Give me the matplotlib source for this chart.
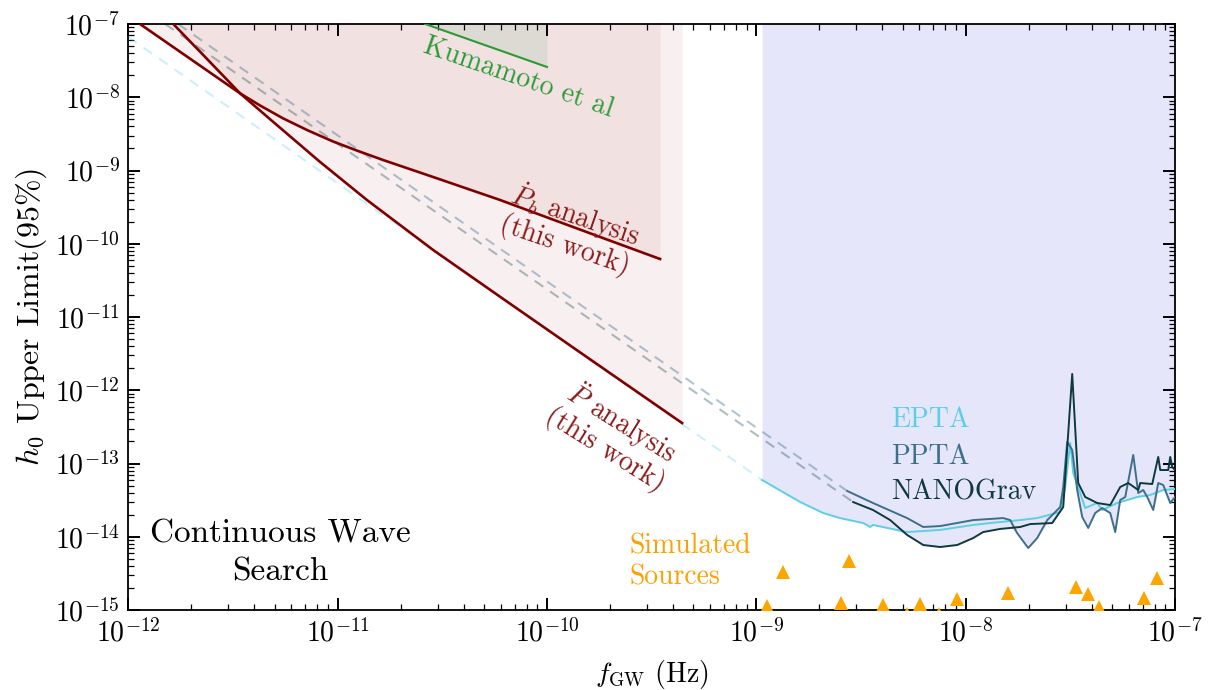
import numpy as np
import matplotlib
matplotlib.use('Agg')
import matplotlib.pyplot as plt
from matplotlib.ticker import LogLocator, NullFormatter

plt.rcParams['font.family'] = 'serif'
plt.rcParams['font.serif'] = ['cmr10']
plt.rcParams['mathtext.fontset'] = 'cm'
plt.rcParams['axes.unicode_minus'] = False
plt.rcParams['axes.formatter.use_mathtext'] = True

# ---------------- data ----------------
# Pdot_b analysis upper limit
pb_f = [1.137e-12, 3.42e-12, 4.26e-12, 5.48e-12, 7.22e-12, 9.51e-12, 1.25e-11, 1.65e-11,
        2.86e-11, 5.97e-11, 1.035e-10, 1.79e-10, 3.47e-10]
pb_h = [1.0e-7, 1.13e-8, 7.72e-9, 5.16e-9, 3.52e-9, 2.49e-9, 1.85e-9, 1.39e-9,
        8.15e-10, 3.96e-10, 2.21e-10, 1.24e-10, 6.19e-11]

# Pddot analysis upper limit
pdd_f = [1.64e-12, 2.33e-12, 3.42e-12, 4.91e-12, 8.24e-12, 1.38e-11, 2.86e-11, 5.97e-11,
         1.55e-10, 4.42e-10]
pdd_h = [1.0e-7, 3.54e-8, 1.13e-8, 4.64e-9, 1.31e-9, 3.96e-10, 8.22e-11, 1.89e-11,
         2.84e-12, 3.57e-13]

# Kumamoto et al
kum_f = [2.62e-11, 1.0e-10]
kum_h = [1.0e-7, 2.59e-8]

# EPTA
epta_f = [1.066e-9, 1.62e-9, 2.085e-9, 2.51e-9, 3.24e-9, 3.50e-9, 3.61e-9, 5.25e-9, 7.55e-9,
          1.086e-8, 1.309e-8, 1.821e-8, 2.196e-8, 2.829e-8, 2.989e-8, 3.158e-8, 3.264e-8,
          3.724e-8, 4.249e-8, 4.489e-8, 5.296e-8, 6.60e-8, 7.613e-8, 8.784e-8, 1.0e-7]
epta_h = [5.95e-14, 2.98e-14, 2.11e-14, 1.80e-14, 1.54e-14, 1.36e-14, 1.45e-14, 1.16e-14, 1.24e-14,
          1.45e-14, 1.54e-14, 1.69e-14, 1.80e-14, 2.18e-14, 4.78e-14, 1.91e-13, 7.42e-14,
          2.47e-14, 2.89e-14, 2.32e-14, 2.89e-14, 3.49e-14, 3.72e-14, 4.35e-14, 4.49e-14]

# PPTA
ppta_f = [2.72e-9, 3.61e-9, 5.25e-9, 6.27e-9, 7.55e-9, 1.086e-8, 1.511e-8, 1.632e-8, 1.762e-8,
          1.99e-8, 2.196e-8, 2.452e-8, 2.829e-8, 2.924e-8, 3.055e-8, 3.228e-8, 3.41e-8, 3.603e-8,
          3.849e-8, 4.156e-8, 4.489e-8, 4.903e-8, 5.181e-8, 5.474e-8, 5.784e-8, 6.316e-8,
          6.673e-8, 7.05e-8, 7.367e-8, 7.868e-8, 8.314e-8, 8.784e-8, 9.487e-8, 1.0e-7]
ppta_h = [4.21e-14, 2.89e-14, 1.80e-14, 1.36e-14, 1.40e-14, 1.69e-14, 1.80e-14, 1.69e-14, 1.12e-14,
          7.02e-15, 9.61e-15, 1.69e-14, 2.55e-14, 4.78e-14, 1.97e-13, 1.53e-13, 4.35e-14, 1.86e-14,
          1.32e-14, 2.11e-14, 2.47e-14, 2.11e-14, 1.16e-14, 3.18e-14, 3.49e-14, 1.31e-13,
          3.96e-14, 4.35e-14, 3.49e-14, 2.32e-14, 5.42e-14, 5.09e-14, 2.89e-14, 3.49e-14]

# NANOGrav
nano_f = [2.90e-9, 3.61e-9, 4.36e-9, 5.25e-9, 6.27e-9, 7.55e-9, 9.11e-9, 1.086e-8, 1.212e-8,
          1.462e-8, 1.821e-8, 2.033e-8, 2.591e-8, 2.924e-8, 3.228e-8, 3.448e-8, 3.724e-8,
          4.249e-8, 4.903e-8, 5.474e-8, 5.978e-8, 6.673e-8, 6.821e-8, 7.783e-8, 8.314e-8,
          8.499e-8, 9.28e-8, 9.487e-8, 9.696e-8, 1.0e-7]
nano_h = [2.98e-14, 2.32e-14, 1.69e-14, 1.06e-14, 7.72e-15, 7.25e-15, 7.72e-15, 9.61e-15, 1.16e-14,
          1.28e-14, 1.36e-14, 1.49e-14, 1.54e-14, 2.55e-14, 1.67e-12, 5.42e-14, 3.49e-14,
          2.89e-14, 2.71e-14, 4.78e-14, 5.42e-14, 4.35e-14, 5.42e-14, 5.25e-14, 1.23e-13,
          8.15e-14, 8.15e-14, 1.23e-13, 8.96e-14, 8.15e-14]

# low-frequency extrapolations (dashed)
epta_ext_f = [1.0e-12, 1.066e-9]
epta_ext_h = [6.65e-8, 5.95e-14]
ppta_ext_f = [1.73e-12, 2.72e-9]
ppta_ext_h = [1.0e-7, 4.21e-14]
nano_ext_f = [1.50e-12, 2.90e-9]
nano_ext_h = [1.0e-7, 2.98e-14]

# simulated sources
sim_f = [1.334e-9, 2.77e-9, 1.13e-9, 2.54e-9, 4.02e-9, 6.06e-9, 5.24e-9, 7.46e-9, 9.14e-9,
         1.6e-8, 3.37e-8, 3.85e-8, 4.31e-8, 7.14e-8, 8.19e-8]
sim_h = [3.27e-15, 4.71e-15, 1.15e-15, 1.23e-15, 1.17e-15, 1.21e-15, 8.9e-16, 8.9e-16, 1.41e-15,
         1.69e-15, 2.08e-15, 1.64e-15, 1.11e-15, 1.47e-15, 2.71e-15]

# ---------------- styles ----------------
RED = '#800000'
RED_TXT = '#8b1a1a'
C_EPTA = '#5ccfe6'
C_PPTA = '#3d6f8c'
C_NANO = '#0e3a3c'
GREEN = '#2b9a35'
ORANGE = '#ffa000'
HTOP = 1e-7

fig = plt.figure(figsize=(12.08, 6.9), dpi=100)
ax = fig.add_axes([0.1062, 0.1159, 0.8665, 0.8493])
ax.set_xscale('log')
ax.set_yscale('log')
ax.set_xlim(1e-12, 1e-7)
ax.set_ylim(1e-15, 1e-7)

# shaded exclusion regions
ax.fill_between(pb_f, pb_h, HTOP, color='#8b0000', alpha=0.06, lw=0, zorder=1)
ax.fill_between(pdd_f, pdd_h, HTOP, color='#8b0000', alpha=0.06, lw=0, zorder=1)
ax.fill_between(kum_f, kum_h, HTOP, color='#dcdad3', lw=0, zorder=1.5)

# PTA region: above the lowest of the three curves
grid = np.unique(np.concatenate([epta_f, ppta_f, nano_f]))
env = []
for g in grid:
    vals = []
    for fx, hx in ((epta_f, epta_h), (ppta_f, ppta_h), (nano_f, nano_h)):
        if fx[0] <= g <= fx[-1]:
            vals.append(np.interp(np.log10(g), np.log10(fx), np.log10(hx)))
    env.append(10 ** min(vals))
ax.fill_between(grid, env, HTOP, color='#e6e6fa', lw=0, zorder=1)

# dashed extrapolations
ax.plot(epta_ext_f, epta_ext_h, ls=(0, (5, 4)), color=C_EPTA, alpha=0.3, lw=1.5, zorder=2)
ax.plot(ppta_ext_f, ppta_ext_h, ls=(0, (5, 4)), color=C_PPTA, alpha=0.4, lw=1.5, zorder=2)
ax.plot(nano_ext_f, nano_ext_h, ls=(0, (5, 4)), color=C_NANO, alpha=0.33, lw=1.5, zorder=2)

# curves
ax.plot(kum_f, kum_h, color=GREEN, lw=1.5, zorder=3)
ax.plot(pb_f, pb_h, color=RED, lw=1.9, zorder=3)
ax.plot(pdd_f, pdd_h, color=RED, lw=1.9, zorder=3)
ax.plot(epta_f, epta_h, color=C_EPTA, lw=1.4, zorder=3)
ax.plot(ppta_f, ppta_h, color=C_PPTA, lw=1.4, zorder=3)
ax.plot(nano_f, nano_h, color=C_NANO, lw=1.4, zorder=3)

ax.plot(sim_f, sim_h, '^', color='orange', ms=10, mew=0, zorder=4)

# annotations
ax.text(7.28e-11, 1.83e-8, 'Kumamoto et al', color=GREEN, fontsize=20, rotation=-19,
        ha='center', va='center', rotation_mode='anchor')
ax.text(1.30e-10, 1.61e-10, '$\\dot{P}_b$ analysis\n(this work)', color=RED_TXT, fontsize=20,
        rotation=-19, ha='center', va='center', multialignment='center',
        rotation_mode='anchor', linespacing=1.0)
ax.text(2.10e-10, 2.45e-13, '$\\ddot{P}$ analysis\n(this work)', color=RED_TXT, fontsize=20,
        rotation=-32, ha='center', va='center', multialignment='center',
        rotation_mode='anchor', linespacing=1.0)
ax.text(5.31e-12, 8.48e-15, 'Continuous Wave', fontsize=24, ha='center', va='baseline')
ax.text(5.31e-12, 2.57e-15, 'Search', fontsize=24, ha='center', va='baseline')
ax.text(2.49e-10, 6.0e-15, 'Simulated', color=ORANGE, fontsize=20, ha='left', va='baseline')
ax.text(2.49e-10, 2.26e-15, 'Sources', color=ORANGE, fontsize=20, ha='left', va='baseline')
ax.text(4.41e-9, 3.15e-13, 'EPTA', color=C_EPTA, fontsize=20, ha='left', va='baseline')
ax.text(4.41e-9, 9.84e-14, 'PPTA', color=C_PPTA, fontsize=20, ha='left', va='baseline')
ax.text(4.41e-9, 3.18e-14, 'NANOGrav', color=C_NANO, fontsize=20, ha='left', va='baseline')

# axes cosmetics
ax.xaxis.set_major_locator(LogLocator(base=10, numticks=20))
ax.yaxis.set_major_locator(LogLocator(base=10, numticks=20))
ax.xaxis.set_minor_locator(LogLocator(base=10, subs=np.arange(2, 10), numticks=100))
ax.yaxis.set_minor_locator(LogLocator(base=10, subs=np.arange(2, 10), numticks=100))
ax.xaxis.set_minor_formatter(NullFormatter())
ax.yaxis.set_minor_formatter(NullFormatter())
ax.tick_params(which='both', direction='in', top=True, right=True)
ax.tick_params(which='major', length=8.5, width=1.4, labelsize=20, pad=6)
ax.tick_params(which='minor', length=4.5, width=0.9)
for s in ax.spines.values():
    s.set_linewidth(1.3)

ax.set_xlabel('$f_{\\rm GW}$ (Hz)', fontsize=20, labelpad=8)
ax.set_ylabel('$h_0$ Upper Limit(95%)', fontsize=23, labelpad=4)

fig.savefig('out.png', dpi=100)
